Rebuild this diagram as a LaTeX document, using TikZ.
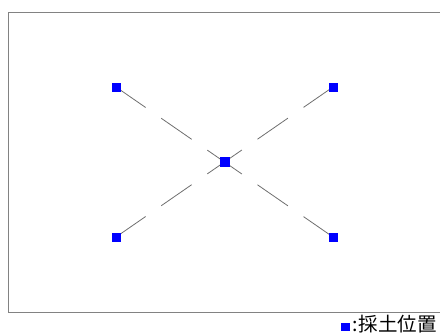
\documentclass[tikz,border=0pt]{standalone}
\usepackage{fontspec}
\newfontfamily\jpfont{Noto Sans CJK JP}
\usetikzlibrary{backgrounds}
\definecolor{SampleBlue}{RGB}{0, 0, 255}
\definecolor{FrameGray}{RGB}{130, 130, 130}
\definecolor{LineGray}{RGB}{110, 110, 110}

\tikzset{
    sample/.style={fill=SampleBlue, minimum size=9pt, inner sep=0pt},
    cross/.style={LineGray, line width=0.8pt,
        dash pattern=on 36pt off 19pt on 37pt off 19pt on 42pt off 19pt on 37pt off 19pt on 36pt}
}

\begin{document}
\begin{tikzpicture}[x=1pt, y=-1pt]

    \clip (0, 0) rectangle (440, 335);
    \useasboundingbox (0, 0) rectangle (440, 335);

    % --- Plot frame ---
    \draw[FrameGray, line width=1pt] (8, 12) -- (470, 12);
    \draw[FrameGray, line width=1pt] (8, 312) -- (470, 312);
    \draw[FrameGray, line width=1pt] (8, 12) -- (8, 312);

    % --- Sampling points ---
    \node[sample] (tl) at (116, 87) {};
    \node[sample] (tr) at (333, 87) {};
    \node[sample] (bl) at (116, 237) {};
    \node[sample] (br) at (333, 237) {};
    \node[sample, minimum size=10pt] (c) at (225, 162) {};

    % --- Diagonals ---
    \begin{scope}[on background layer]
        \draw[cross] (tl.center) -- (br.center);
        \draw[cross] (bl.center) -- (tr.center);
    \end{scope}

    % --- Legend ---
    \node[anchor=base west, inner sep=0pt, font=\jpfont\fontsize{19.5}{19.5}\selectfont] (legend) at (341, 331)
        {\textcolor{SampleBlue}{\rule{9pt}{8.5pt}}\hspace{2pt}:\hspace{1pt}採土位置};

\end{tikzpicture}
\end{document}
